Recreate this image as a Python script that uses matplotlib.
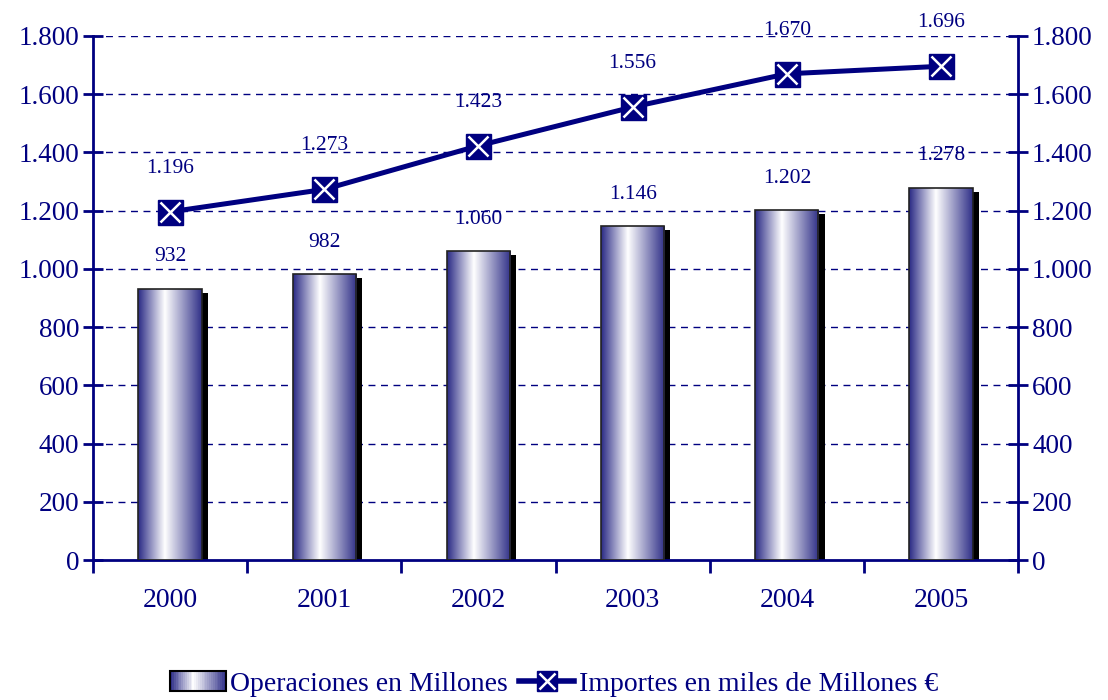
import numpy as np
import matplotlib.pyplot as plt
from matplotlib.colors import LinearSegmentedColormap
from matplotlib.patches import Rectangle
from matplotlib.lines import Line2D
from matplotlib.ticker import FuncFormatter, FixedLocator
from matplotlib.legend_handler import HandlerBase, HandlerTuple

years = ['2000', '2001', '2002', '2003', '2004', '2005']
operaciones = [932, 982, 1060, 1146, 1202, 1278]
importes = [1196, 1273, 1423, 1556, 1670, 1696]

navy = '#000080'
plt.rcParams['font.family'] = ['Liberation Serif', 'DejaVu Serif']

def fmt(v, pos=None):
    return f'{int(v):,}'.replace(',', '.')

fig = plt.figure(figsize=(11.08, 7), dpi=100)
ax = fig.add_axes([0.0839, 0.2, 0.835, 0.7486])
ax.set_xlim(-0.5, 5.5)
ax.set_ylim(0, 1800)

# bar gradient
cmap = LinearSegmentedColormap.from_list('barg', [(0, '#2a2a85'), (0.42, '#ffffff'), (1, '#303088')])
grad = np.linspace(0, 1, 256).reshape(1, -1)
width = 0.41
sx = 0.04
sy = 14
for i, v in enumerate(operaciones):
    x0 = i - width / 2
    ax.add_patch(Rectangle((x0 + sx, 0), width, v - sy, facecolor='black', edgecolor='none', zorder=2))
    im = ax.imshow(grad, cmap=cmap, extent=(x0, x0 + width, 0, v), aspect='auto', zorder=3)
    r = Rectangle((x0, 0), width, v, facecolor='none', edgecolor='#222222', lw=1.2, zorder=4)
    ax.add_patch(r)
    im.set_clip_path(r)
    ax.text(i, v + 110, fmt(v), ha='center', va='center', color=navy, fontsize=15.5, zorder=6)

x = np.arange(len(years))
ax.plot(x, importes, color=navy, lw=3.6, zorder=5)
ax.plot(x, importes, ls='none', marker='s', ms=18, mfc=navy, mec=navy, zorder=6)
ax.plot(x, importes, ls='none', marker='x', ms=14, mew=1.8, color='white', zorder=7)
for i, v in enumerate(importes):
    ax.text(i, v + 150, fmt(v), ha='center', va='center', color=navy, fontsize=15.5, zorder=6)

ax.set_xlim(-0.5, 5.5)
ax.set_ylim(0, 1800)

# grid
for g in range(200, 1801, 200):
    ax.axhline(g, color=navy, lw=1, ls=(0, (5, 4)), zorder=1)

for s in ['top', 'right']:
    ax.spines[s].set_visible(False)
ax.spines['left'].set_color(navy)
ax.spines['bottom'].set_color(navy)
ax.spines['left'].set_linewidth(2)
ax.spines['bottom'].set_linewidth(2)

ax.yaxis.set_major_locator(FixedLocator(range(0, 1801, 200)))
ax.yaxis.set_major_formatter(FuncFormatter(fmt))
ax.tick_params(axis='y', direction='inout', length=14, width=2, color=navy, labelcolor=navy, labelsize=19.5, pad=3)

ax.set_xticks(x)
ax.set_xticklabels(years)
ax.set_xticks(np.arange(-0.5, 6, 1), minor=True)
ax.tick_params(axis='x', which='major', length=0, labelcolor=navy, labelsize=20, pad=20)
ax.tick_params(axis='x', which='minor', direction='out', length=9, width=2, color=navy)

ax2 = ax.twinx()
ax2.set_ylim(0, 1800)
for s in ['top', 'left', 'bottom']:
    ax2.spines[s].set_visible(False)
ax2.spines['right'].set_color(navy)
ax2.spines['right'].set_linewidth(2)
ax2.yaxis.set_major_locator(FixedLocator(range(0, 1801, 200)))
ax2.yaxis.set_major_formatter(FuncFormatter(fmt))
ax2.tick_params(axis='y', direction='inout', length=14, width=2, color=navy, labelcolor=navy, labelsize=19.5, pad=3)
ax.set_zorder(ax2.get_zorder() + 1)
ax.patch.set_visible(False)

# legend
class GradHandler(HandlerBase):
    def create_artists(self, legend, orig, xd, yd, w, h, fs, trans):
        out = []
        n = 30
        for k in range(n):
            c = cmap((k + 0.5) / n)
            out.append(Rectangle((xd + w * k / n, yd), w / n + 0.3, h, facecolor=c, edgecolor='none', transform=trans))
        out.append(Rectangle((xd, yd), w, h, facecolor='none', edgecolor='black', lw=1.5, transform=trans))
        return out

bar_h = Rectangle((0, 0), 1, 1)
line_h = (Line2D([], [], color=navy, lw=4, marker='s', ms=15, mfc=navy, mec=navy),
          Line2D([], [], ls='none', marker='x', ms=11, mew=1.8, color='white'))
leg = fig.legend([bar_h, line_h], ['Operaciones en Millones', 'Importes en miles de Millones €'],
                 handler_map={Rectangle: GradHandler(), tuple: HandlerTuple(ndivide=1)},
                 loc='center', bbox_to_anchor=(0.5, 0.023), ncol=2, frameon=False,
                 fontsize=20, handlelength=2.0, handleheight=0.7, columnspacing=0.4, handletextpad=0.15)
for t in leg.get_texts():
    t.set_color(navy)

fig.savefig('out.png', dpi=100)
